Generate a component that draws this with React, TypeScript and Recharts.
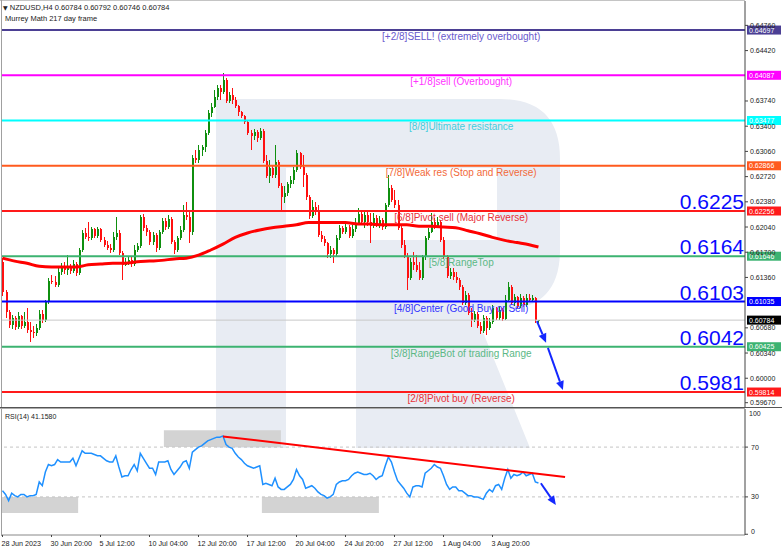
import React from 'react';
import { ComposedChart, Bar, Line, XAxis, YAxis, ReferenceLine, ReferenceArea } from 'recharts';

// NZDUSD H4, 28 Jun 2023 04:00 -> 8 Aug 2023
const OPEN = [
  0.6157, 0.6116, 0.6089, 0.6072, 0.6081, 0.6069, 0.6084, 0.6070, 0.6076, 0.6065,
  0.6062, 0.6061, 0.6068, 0.6087, 0.6078, 0.6103, 0.6131, 0.6130, 0.6126, 0.6143,
  0.6150, 0.6146, 0.6149, 0.6145, 0.6154, 0.6142, 0.6173, 0.6196, 0.6190, 0.6189,
  0.6201, 0.6192, 0.6201, 0.6186, 0.6180, 0.6176, 0.6173, 0.6190, 0.6196, 0.6169,
  0.6153, 0.6157, 0.6159, 0.6154, 0.6173, 0.6178, 0.6218, 0.6203, 0.6197, 0.6184,
  0.6193, 0.6176, 0.6197, 0.6212, 0.6204, 0.6215, 0.6184, 0.6173, 0.6189, 0.6200,
  0.6220, 0.6218, 0.6197, 0.6297, 0.6294, 0.6308, 0.6312, 0.6331, 0.6358, 0.6366,
  0.6379, 0.6391, 0.6386, 0.6402, 0.6374, 0.6382, 0.6375, 0.6367, 0.6359, 0.6354,
  0.6346, 0.6331, 0.6327, 0.6332, 0.6324, 0.6334, 0.6293, 0.6273, 0.6284, 0.6274,
  0.6292, 0.6259, 0.6244, 0.6250, 0.6262, 0.6267, 0.6281, 0.6304, 0.6285, 0.6274,
  0.6244, 0.6219, 0.6231, 0.6226, 0.6193, 0.6188, 0.6183, 0.6168, 0.6173, 0.6168,
  0.6189, 0.6203, 0.6197, 0.6204, 0.6192, 0.6201, 0.6210, 0.6222, 0.6211, 0.6220,
  0.6211, 0.6205, 0.6216, 0.6207, 0.6213, 0.6204, 0.6234, 0.6257, 0.6240, 0.6234,
  0.6203, 0.6180, 0.6165, 0.6135, 0.6157, 0.6153, 0.6146, 0.6135, 0.6163, 0.6189,
  0.6197, 0.6211, 0.6205, 0.6211, 0.6186, 0.6163, 0.6138, 0.6143, 0.6137, 0.6132,
  0.6123, 0.6102, 0.6112, 0.6088, 0.6078, 0.6087, 0.6070, 0.6064, 0.6081, 0.6068,
  0.6076, 0.6095, 0.6081, 0.6092, 0.6080, 0.6105, 0.6123, 0.6102, 0.6110, 0.6097,
  0.6108, 0.6099, 0.6108, 0.6105, 0.6108, 0.60784,
];
const HIGH = [
  0.6162, 0.6119, 0.6092, 0.6085, 0.6084, 0.6089, 0.6085, 0.6089, 0.6095, 0.6076,
  0.6070, 0.6073, 0.6092, 0.6092, 0.6105, 0.6135, 0.6139, 0.6138, 0.6149, 0.6155,
  0.6157, 0.6166, 0.6154, 0.6159, 0.6157, 0.6176, 0.6200, 0.6203, 0.6211, 0.6204,
  0.6203, 0.6204, 0.6203, 0.6190, 0.6185, 0.6181, 0.6197, 0.6218, 0.6200, 0.6172,
  0.6162, 0.6165, 0.6163, 0.6180, 0.6183, 0.6220, 0.6221, 0.6207, 0.6200, 0.6197,
  0.6196, 0.6200, 0.6216, 0.6216, 0.6220, 0.6218, 0.6186, 0.6192, 0.6205, 0.6234,
  0.6238, 0.6227, 0.6301, 0.6308, 0.6315, 0.6315, 0.6335, 0.6362, 0.6371, 0.6389,
  0.6396, 0.6396, 0.6412, 0.6405, 0.6386, 0.6391, 0.6379, 0.6369, 0.6360, 0.6355,
  0.6347, 0.6335, 0.6336, 0.6335, 0.6338, 0.6336, 0.6301, 0.6294, 0.6286, 0.6315,
  0.6294, 0.6263, 0.6259, 0.6265, 0.6273, 0.6285, 0.6308, 0.6305, 0.6301, 0.6277,
  0.6247, 0.6240, 0.6238, 0.6234, 0.6199, 0.6192, 0.6184, 0.6178, 0.6176, 0.6193,
  0.6207, 0.6205, 0.6211, 0.6207, 0.6207, 0.6216, 0.6230, 0.6227, 0.6226, 0.6224,
  0.6223, 0.6223, 0.6220, 0.6219, 0.6216, 0.6236, 0.6274, 0.6261, 0.6254, 0.6240,
  0.6207, 0.6186, 0.6169, 0.6162, 0.6170, 0.6166, 0.6157, 0.6166, 0.6192, 0.6203,
  0.6223, 0.6216, 0.6218, 0.6213, 0.6190, 0.6166, 0.6149, 0.6149, 0.6143, 0.6135,
  0.6126, 0.6118, 0.6115, 0.6095, 0.6091, 0.6089, 0.6076, 0.6085, 0.6084, 0.6081,
  0.6099, 0.6096, 0.6097, 0.6095, 0.6112, 0.6130, 0.6126, 0.6114, 0.6111, 0.6114,
  0.6111, 0.6114, 0.6114, 0.6112, 0.6110, 0.60792,
];
const LOW = [
  0.6111, 0.6081, 0.6068, 0.6066, 0.6065, 0.6066, 0.6066, 0.6068, 0.6061, 0.6049,
  0.6054, 0.6057, 0.6065, 0.6074, 0.6076, 0.6100, 0.6127, 0.6123, 0.6123, 0.6139,
  0.6141, 0.6139, 0.6141, 0.6142, 0.6138, 0.6139, 0.6170, 0.6188, 0.6185, 0.6186,
  0.6189, 0.6189, 0.6184, 0.6177, 0.6173, 0.6169, 0.6170, 0.6186, 0.6166, 0.6132,
  0.6151, 0.6153, 0.6150, 0.6151, 0.6170, 0.6176, 0.6199, 0.6192, 0.6180, 0.6180,
  0.6170, 0.6173, 0.6195, 0.6200, 0.6201, 0.6181, 0.6168, 0.6170, 0.6186, 0.6197,
  0.6213, 0.6183, 0.6193, 0.6290, 0.6290, 0.6300, 0.6305, 0.6328, 0.6352, 0.6364,
  0.6375, 0.6375, 0.6383, 0.6371, 0.6371, 0.6370, 0.6364, 0.6354, 0.6351, 0.6343,
  0.6328, 0.6308, 0.6321, 0.6319, 0.6321, 0.6290, 0.6270, 0.6263, 0.6270, 0.6270,
  0.6257, 0.6227, 0.6236, 0.6246, 0.6257, 0.6262, 0.6278, 0.6282, 0.6258, 0.6240,
  0.6215, 0.6216, 0.6220, 0.6190, 0.6184, 0.6178, 0.6162, 0.6162, 0.6155, 0.6165,
  0.6186, 0.6195, 0.6195, 0.6189, 0.6189, 0.6197, 0.6207, 0.6207, 0.6203, 0.6205,
  0.6183, 0.6203, 0.6204, 0.6203, 0.6200, 0.6201, 0.6231, 0.6238, 0.6230, 0.6200,
  0.6176, 0.6162, 0.6119, 0.6132, 0.6146, 0.6143, 0.6132, 0.6132, 0.6160, 0.6186,
  0.6196, 0.6201, 0.6203, 0.6184, 0.6161, 0.6135, 0.6134, 0.6132, 0.6128, 0.6119,
  0.6099, 0.6099, 0.6085, 0.6069, 0.6076, 0.6068, 0.6060, 0.6061, 0.6058, 0.6065,
  0.6073, 0.6078, 0.6078, 0.6077, 0.6078, 0.6103, 0.6099, 0.6097, 0.6095, 0.6095,
  0.6096, 0.6096, 0.6103, 0.6104, 0.60746, 0.60746,
];
const CLOSE = [
  0.6116, 0.6089, 0.6072, 0.6081, 0.6069, 0.6084, 0.6070, 0.6076, 0.6065, 0.6062,
  0.6061, 0.6068, 0.6087, 0.6078, 0.6103, 0.6131, 0.6130, 0.6126, 0.6143, 0.6150,
  0.6146, 0.6149, 0.6145, 0.6154, 0.6142, 0.6173, 0.6196, 0.6190, 0.6189, 0.6201,
  0.6192, 0.6201, 0.6186, 0.6180, 0.6176, 0.6173, 0.6190, 0.6196, 0.6169, 0.6153,
  0.6157, 0.6159, 0.6154, 0.6173, 0.6178, 0.6218, 0.6203, 0.6197, 0.6184, 0.6193,
  0.6176, 0.6197, 0.6212, 0.6204, 0.6215, 0.6184, 0.6173, 0.6189, 0.6200, 0.6220,
  0.6218, 0.6197, 0.6297, 0.6294, 0.6308, 0.6312, 0.6331, 0.6358, 0.6366, 0.6379,
  0.6391, 0.6386, 0.6402, 0.6374, 0.6382, 0.6375, 0.6367, 0.6359, 0.6354, 0.6346,
  0.6331, 0.6327, 0.6332, 0.6324, 0.6334, 0.6293, 0.6273, 0.6284, 0.6274, 0.6292,
  0.6259, 0.6244, 0.6250, 0.6262, 0.6267, 0.6281, 0.6304, 0.6285, 0.6274, 0.6244,
  0.6219, 0.6231, 0.6226, 0.6193, 0.6188, 0.6183, 0.6168, 0.6173, 0.6168, 0.6189,
  0.6203, 0.6197, 0.6204, 0.6192, 0.6201, 0.6210, 0.6222, 0.6211, 0.6220, 0.6211,
  0.6205, 0.6216, 0.6207, 0.6213, 0.6204, 0.6234, 0.6257, 0.6240, 0.6234, 0.6203,
  0.6180, 0.6165, 0.6135, 0.6157, 0.6153, 0.6146, 0.6135, 0.6163, 0.6189, 0.6197,
  0.6211, 0.6205, 0.6211, 0.6186, 0.6163, 0.6138, 0.6143, 0.6137, 0.6132, 0.6123,
  0.6102, 0.6112, 0.6088, 0.6078, 0.6087, 0.6070, 0.6064, 0.6081, 0.6068, 0.6076,
  0.6095, 0.6081, 0.6092, 0.6080, 0.6105, 0.6123, 0.6102, 0.6110, 0.6097, 0.6108,
  0.6099, 0.6108, 0.6105, 0.6108, 0.60784, 0.60784,
];
const RSI = [
  35, 32, 27, 33, 31, 30, 32, 32, 30, 31,
  31, 32, 42, 39, 50, 56, 55, 56, 60, 58,
  58, 58, 58, 61, 55, 61, 67, 65, 65, 65,
  64, 63, 63, 61, 59, 58, 58, 63, 54, 46,
  47, 47, 52, 56, 51, 65, 61, 57, 53, 53,
  48, 58, 58, 58, 59, 52, 48, 51, 54, 58,
  59, 53, 66, 68, 70, 71, 73, 75, 76, 77,
  78, 78, 79, 72, 70, 69, 65, 62, 60, 57,
  55, 54, 53, 54, 55, 40, 41, 40, 39, 45,
  38, 36, 36, 38, 40, 44, 52, 47, 44, 37,
  38, 39, 37, 34, 32, 31, 29, 30, 32, 40,
  42, 43, 43, 44, 47, 49, 50, 49, 48, 48,
  49, 47, 44, 46, 47, 55, 62, 58, 50, 43,
  40, 37, 33, 30, 38, 39, 39, 38, 49, 51,
  53, 56, 54, 53, 47, 40, 36, 38, 38, 35,
  35, 33, 31, 31, 30, 30, 29, 28, 33, 36,
  34, 39, 40, 36, 45, 52, 45, 48, 47, 48,
  50, 47, 48, 49, 42, 41.158,
];
// moving average, sampled at these bars
const MA_AT = [0, 4, 8, 12, 16, 20, 24, 28, 32, 36, 40, 44, 48, 52, 56, 60, 64, 68, 72, 76, 80, 84, 88,
  92, 96, 100, 104, 108, 112, 116, 120, 124, 128, 132, 136, 140, 144, 148, 152, 156, 160, 164, 168, 172, 175];
const MA = [0.6162, 0.6158, 0.6155, 0.6151, 0.6150, 0.6150, 0.6150, 0.6153, 0.6154, 0.6155, 0.6155, 0.6157,
  0.6158, 0.6159, 0.6161, 0.6162, 0.6166, 0.6173, 0.6181, 0.6190, 0.6196, 0.6200, 0.6203, 0.6205, 0.6207,
  0.6210, 0.6210, 0.6210, 0.6210, 0.6208, 0.6208, 0.6207, 0.6207, 0.6207, 0.6205, 0.6205, 0.6204, 0.6203,
  0.6199, 0.6195, 0.6190, 0.6186, 0.6183, 0.6180, 0.6177];

const TIME_TICKS = [0, 16, 32, 48, 64, 80, 96, 112, 128, 144, 160];
const TIME_LABELS = ['28 Jun 2023', '30 Jun 20:00', '5 Jul 12:00', '10 Jul 04:00', '12 Jul 20:00', '17 Jul 12:00',
  '20 Jul 04:00', '24 Jul 20:00', '27 Jul 12:00', '1 Aug 04:00', '3 Aug 20:00'];
const PRICE_TICKS = [0.6476, 0.6442, 0.6374, 0.634, 0.6306, 0.6272, 0.6238, 0.6204, 0.617, 0.6136, 0.6068,
  0.6034, 0.6, 0.5967];
const RSI_TICKS = [0, 30, 70];
const RSI_TOP = 100;

const LEVELS = [0.64697, 0.64087, 0.63477, 0.62866, 0.62256, 0.61646, 0.61035, 0.60425, 0.59814];
const LEVEL_TEXT = ['[+2/8]SELL! (extremely overbought)', '[+1/8]sell (Overbought)', '[8/8]Ultimate resistance',
  '[7/8]Weak res (Stop and Reverse)', '[6/8]Pivot sell (Major Reverse)', '[5/8]RangeTop',
  '[4/8]Center (Good Buy or Sell)', '[3/8]RangeBot of trading Range', '[2/8]Pivot buy (Reverse)'];
const LEVEL_BIG = ['', '', '', '', '0.6225', '0.6164', '0.6103', '0.6042', '0.5981'];
const LAST_PRICE = 0.60784;

const PRICE_ARROWS = [
  [[174.5, 0.6077], [177.5, 0.6048]],
  [[178.1, 0.6041], [183, 0.5984]],
];
const RSI_TREND = [[72, 78.6], [183.7, 46]];
const RSI_ARROW = [[175.8, 41], [180.7, 23.5]];
const RSI_BOXES = [[-0.16, 24.7, 17, 30], [52.7, 90.9, 70, 83.5], [84.7, 122.9, 17, 30]];

const X_DOMAIN = [-0.16, 242.45];
const PRICE_DOMAIN = [0.59612, 0.65089];
const RSI_DOMAIN = [-0.6, 100.6];

const FONT = '"Liberation Sans", Arial, "DejaVu Sans", sans-serif';
const LEVEL_LINE = ['#4b3f94', '#ff00ff', '#00ffff', '#ff5a1e', '#ff1a1a', '#3cb371', '#0000ff', '#3cb371', '#ff1a1a'];
const LEVEL_INK = ['#6a5acd', '#ff33ff', '#44ccdd', '#f26a3a', '#e8303a', '#5cb885', '#3333ff', '#5cb885', '#e8303a'];
const UP = '#0f8f0f';
const DOWN = '#ff1010';

const bars = CLOSE.map((c, i) => ({
  i, open: OPEN[i], high: HIGH[i], low: LOW[i], close: c,
  range: [LOW[i], HIGH[i]], rsi: RSI[i], ma: null as number | null,
}));
MA_AT.forEach((b, k) => { bars[b].ma = MA[k]; });

function Candle(props: any) {
  const { x, y, width, height, payload } = props;
  const top = Math.min(y, y + height);
  const h = Math.abs(height);
  const k = h / (payload.high - payload.low || 1e-9);
  const yO = top + (payload.high - payload.open) * k;
  const yC = top + (payload.high - payload.close) * k;
  const color = payload.close >= payload.open ? UP : DOWN;
  const px = Math.floor(x + width / 2);
  return (
    <g shapeRendering="crispEdges">
      <line x1={px + 0.5} x2={px + 0.5} y1={top} y2={top + h} stroke={color} strokeWidth={1} />
      <rect x={px} y={Math.min(yO, yC)} width={2} height={Math.max(1, Math.abs(yC - yO))} fill={color} />
    </g>
  );
}

function LevelLabel(props: any) {
  const { viewBox, idx } = props;
  const right = viewBox.x + viewBox.width;
  return (
    <g fontFamily={FONT}>
      <text x={viewBox.x + viewBox.width * 0.618} y={viewBox.y + 10} textAnchor="middle" fontSize={10} fill={LEVEL_INK[idx]}>
        {LEVEL_TEXT[idx]}
      </text>
      {LEVEL_BIG[idx] && (
        <text x={right - 1} y={viewBox.y - 2} textAnchor="end" fontSize={21} fill="#0a0aff">{LEVEL_BIG[idx]}</text>
      )}
      <rect x={right + 2} y={viewBox.y - 4.5} width={34} height={9} fill={LEVEL_LINE[idx]} />
      <text x={right + 4} y={viewBox.y + 2.6} fontSize={7} fill="#fff">{LEVELS[idx].toFixed(5)}</text>
    </g>
  );
}

function LastTag(props: any) {
  const { viewBox } = props;
  const right = viewBox.x + viewBox.width;
  return (
    <g fontFamily={FONT}>
      <rect x={right + 2} y={viewBox.y - 4.5} width={34} height={9} fill="#000" />
      <text x={right + 4} y={viewBox.y + 2.6} fontSize={7} fill="#fff">{LAST_PRICE.toFixed(5)}</text>
    </g>
  );
}

const arrowShape = (color: string) => (p: any) => {
  const { x1, y1, x2, y2 } = p;
  const a = Math.atan2(y2 - y1, x2 - x1);
  const bx = x2 - 9 * Math.cos(a);
  const by = y2 - 9 * Math.sin(a);
  const nx = -Math.sin(a) * 4;
  const ny = Math.cos(a) * 4;
  return (
    <g>
      <line x1={x1} y1={y1} x2={bx} y2={by} stroke={color} strokeWidth={2} />
      <polygon points={`${x2},${y2} ${bx + nx},${by + ny} ${bx - nx},${by - ny}`} fill={color} />
    </g>
  );
};

function TimeTick(props: any) {
  const { x, y, payload } = props;
  return (
    <text x={x - 1} y={y + 7} fontSize={7.2} fontFamily={FONT} fill="#222">
      {TIME_LABELS[TIME_TICKS.indexOf(payload.value)]}
    </text>
  );
}

function RsiTick(props: any) {
  const { x, y, payload } = props;
  const nudge = payload.value === 0 ? -3 : 0;
  return (
    <text x={x + 1} y={y + nudge + 2.5} fontSize={7} fontFamily={FONT} fill="#222">{payload.value}</text>
  );
}

export default function App() {
  return (
    <div style={{ position: 'absolute', left: 0, top: 0, width: 782, height: 550, background: '#fff', overflow: 'hidden' }}>
      <svg width={782} height={550} style={{ position: 'absolute', left: 0, top: 0 }}>
        <path d="M216,99 H500 Q560,99 560,159 V250 Q560,310 500,310 H474 L530,448 H356 V240 H497 V168 H286 V448 H216 Z" fill="#e8ecf3" />
        <line x1={0} x2={745} y1={0.5} y2={0.5} stroke="#c4c4c4" />
        <line x1={1.5} x2={1.5} y1={0} y2={536} stroke="#a0a0a0" />
        <line x1={0} x2={782} y1={407.5} y2={407.5} stroke="#555" />
        <line x1={0} x2={745} y1={408.5} y2={408.5} stroke="#aaa" />
      </svg>

      <div style={{ position: 'absolute', left: 0, top: 0 }}>
        <ComposedChart width={782} height={407} data={bars} margin={{ top: 1, right: 0, bottom: 0, left: 2 }}>
          <XAxis type="number" dataKey="i" domain={X_DOMAIN} allowDataOverflow hide />
          <YAxis orientation="right" width={37} domain={PRICE_DOMAIN} allowDataOverflow ticks={PRICE_TICKS} interval={0}
            tickFormatter={(v: number) => v.toFixed(5)} tick={{ fontSize: 7, fill: '#222', fontFamily: FONT }}
            tickSize={3} tickMargin={2} axisLine={{ stroke: '#444' }} tickLine={{ stroke: '#444' }} />
          <ReferenceLine y={LAST_PRICE} stroke="#c8c8c8" strokeWidth={1} label={<LastTag />} />
          {LEVELS.map((v, k) => (
            <ReferenceLine key={v} y={v} stroke={LEVEL_LINE[k]} strokeWidth={2} label={<LevelLabel idx={k} />} />
          ))}
          <Bar dataKey="range" barSize={2} shape={Candle} isAnimationActive={false} />
          <Line dataKey="ma" type="monotone" stroke="#ff0000" strokeWidth={3} dot={false} connectNulls isAnimationActive={false} />
          {PRICE_ARROWS.map((s, k) => (
            <ReferenceLine key={k} segment={[{ x: s[0][0], y: s[0][1] }, { x: s[1][0], y: s[1][1] }]} shape={arrowShape('#1428ff')} />
          ))}
        </ComposedChart>
      </div>

      <div style={{ position: 'absolute', left: 0, top: 409 }}>
        <ComposedChart width={782} height={141} data={bars} margin={{ top: 0, right: 0, bottom: 0, left: 2 }}>
          <XAxis type="number" dataKey="i" domain={X_DOMAIN} allowDataOverflow ticks={TIME_TICKS} interval={0} height={15}
            tick={<TimeTick />} tickSize={2} axisLine={{ stroke: '#888' }} tickLine={{ stroke: '#444' }} />
          <YAxis orientation="right" width={37} domain={RSI_DOMAIN} allowDataOverflow ticks={RSI_TICKS} interval={0}
            tick={<RsiTick />} tickSize={3} axisLine={{ stroke: '#444' }} tickLine={{ stroke: '#444' }} />
          <ReferenceLine y={70} stroke="#c4c4c4" strokeDasharray="3 3" />
          <ReferenceLine y={30} stroke="#c4c4c4" strokeDasharray="3 3" />
          {RSI_BOXES.map((b, k) => (
            <ReferenceArea key={k} x1={b[0]} x2={b[1]} y1={b[2]} y2={b[3]} fill="#d3d3d3" fillOpacity={1} stroke="none" />
          ))}
          <Line dataKey="rsi" type="linear" stroke="#1e90ff" strokeWidth={1.5} dot={false} isAnimationActive={false} />
          <ReferenceLine segment={[{ x: RSI_TREND[0][0], y: RSI_TREND[0][1] }, { x: RSI_TREND[1][0], y: RSI_TREND[1][1] }]}
            stroke="#ff0000" strokeWidth={2} />
          <ReferenceLine segment={[{ x: RSI_ARROW[0][0], y: RSI_ARROW[0][1] }, { x: RSI_ARROW[1][0], y: RSI_ARROW[1][1] }]}
            shape={arrowShape('#1428ff')} />
        </ComposedChart>
      </div>

      <svg width={782} height={550} style={{ position: 'absolute', left: 0, top: 0, pointerEvents: 'none' }}>
        <g fontFamily={FONT} fill="#222" fontSize={7.5}>
          <text x={3} y={10}>
            <tspan fontSize={6} fontFamily='"DejaVu Sans", sans-serif'>▼</tspan> NZDUSD,H4  0.60784 0.60792 0.60746 0.60784
          </text>
          <text x={5} y={20.5}>Murrey Math 217 day frame</text>
          <text x={5} y={419} fontSize={7}>RSI(14) 41.1580</text>
          <text x={749} y={416} fontSize={7}>{RSI_TOP}</text>
        </g>
      </svg>
    </div>
  );
}
